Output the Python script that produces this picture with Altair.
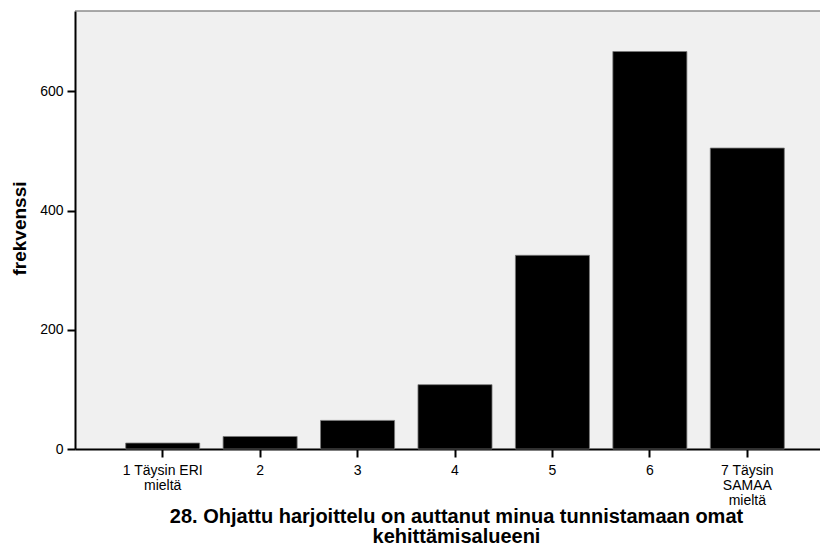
import altair as alt
import pandas as pd

categories = ["1 Täysin ERI|mieltä", "2", "3", "4", "5", "6", "7 Täysin|SAMAA|mieltä"]
counts = [10, 21, 48, 108, 325, 667, 505]
y_ticks = [0, 200, 400, 600]
x_title = ["28. Ohjattu harjoittelu on auttanut minua tunnistamaan omat", "kehittämisalueeni"]
y_title = "frekvenssi"

df = pd.DataFrame({"cat": categories, "n": counts})

font = "Liberation Sans"

bars = alt.Chart(df).mark_bar(
    color="black", stroke="#7a7a7a", strokeWidth=0.8
).encode(
    x=alt.X(
        "cat:N",
        sort=categories,
        scale=alt.Scale(paddingInner=0.24, paddingOuter=0.52, range=[0, 760]),
        axis=alt.Axis(
            title=x_title,
            labelAngle=0,
            labelExpr="split(datum.label, '|')",
            labelFont=font,
            labelFontSize=14,
            labelLineHeight=15,
            labelBaseline="top",
            labelPadding=6,
            labelColor="black",
            tickSize=8,
            tickWidth=2,
            tickColor="black",
            domainColor="black",
            domainWidth=2,
            titleFont=font,
            titleFontSize=20,
            titleFontWeight="bold",
            titleLineHeight=20,
            titleBaseline="top",
            titleX=381,
            titleY=57,
            titleColor="black",
            grid=False,
        ),
    ),
    y=alt.Y(
        "n:Q",
        scale=alt.Scale(domain=[0, 735], nice=False),
        axis=alt.Axis(
            title=y_title,
            values=y_ticks,
            labelFont=font,
            labelFontSize=14,
            labelPadding=4,
            labelColor="black",
            tickSize=8,
            tickWidth=2,
            tickColor="black",
            domainColor="black",
            domainWidth=2,
            titleFont=font,
            titleFontSize=19,
            titleFontWeight="bold",
            titleColor="black",
            titleBaseline="alphabetic",
            titleX=-50,
            titleY=217,
            grid=False,
        ),
    ),
)

# top frame line of the plot area
frame_top = alt.Chart(pd.DataFrame({"f": [0]})).mark_rule(
    color="#555555", strokeWidth=1
).encode(y=alt.value(0))

chart = alt.layer(bars, frame_top).properties(
    width=745,
    height=438,
    autosize=alt.AutoSizeParams(type="none"),
    padding={"left": 67, "top": 3, "right": 0, "bottom": 96},
).configure_view(
    fill="#f0f0f0", strokeOpacity=0
)

chart.save("out.html", embed_options={"renderer": "svg", "actions": False})
